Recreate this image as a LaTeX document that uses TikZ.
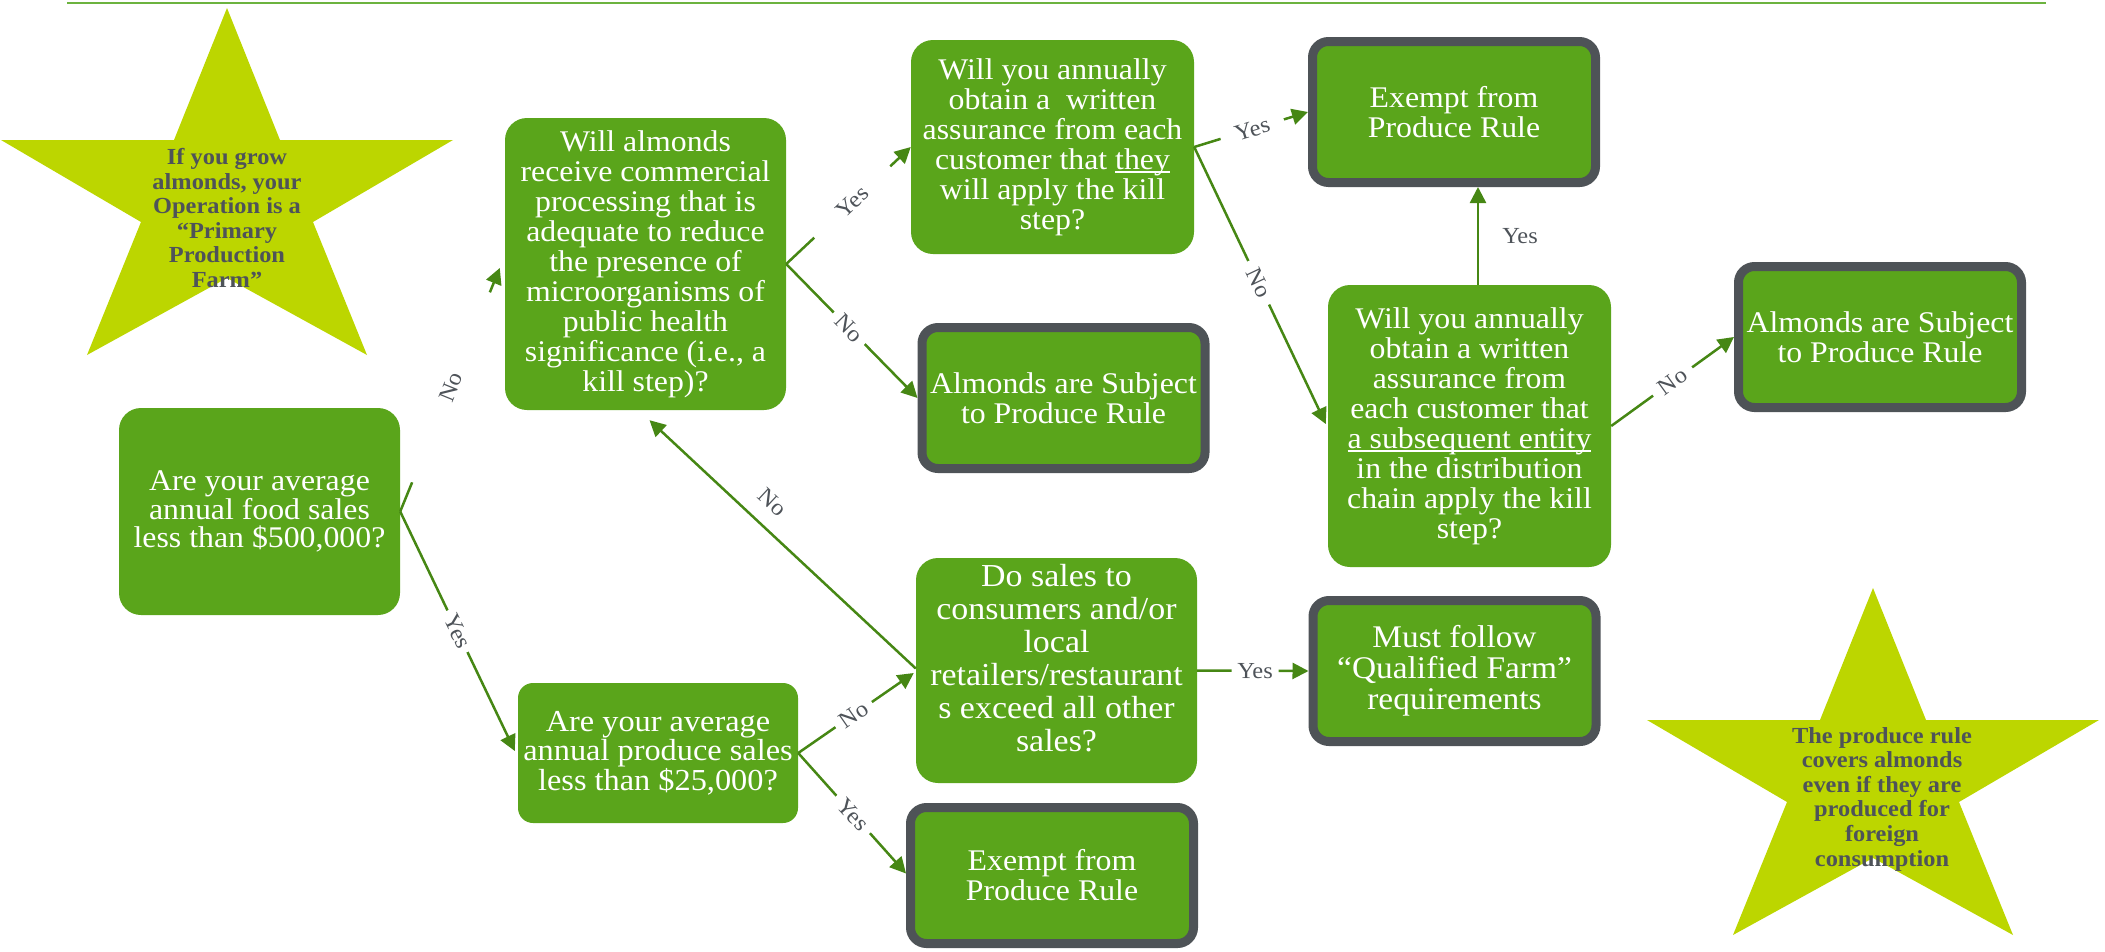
\documentclass[tikz,border=0pt]{standalone}
\usepackage{fontspec}
\setmainfont{Liberation Serif}[FakeStretch=1.06]
\usetikzlibrary{arrows.meta,calc}

\definecolor{boxgreen}{HTML}{5AA51B}
\definecolor{edgegray}{HTML}{4E5357}
\definecolor{stargreen}{HTML}{BCD600}
\definecolor{linkgreen}{HTML}{468714}
\definecolor{notegray}{HTML}{4E5359}
\definecolor{rulegreen}{HTML}{6CB33F}

% underline that sits just under the baseline without adding depth
\newcommand\ulword[1]{\setbox0\hbox{#1}\rlap{\rule[-3.5pt]{\wd0}{1.5pt}}\box0}

\begin{document}
\begin{tikzpicture}[x=1pt,y=-1pt,
  question/.style={fill=boxgreen, text=white, rounded corners=22pt, inner sep=2pt,
    align=center, font=\fontsize{30}{30}\selectfont},
  outcome/.style={draw=edgegray, line width=9pt, fill=boxgreen, text=white,
    rounded corners=16pt, inner sep=2pt, align=center,
    font=\fontsize{30}{30}\selectfont, minimum width=283pt, minimum height=141pt},
  link/.style={draw=linkgreen, line width=2.5pt, -{Triangle[length=16pt,width=16pt]}},
  tag/.style={text=notegray, font=\fontsize{23}{23}\selectfont, fill=white,
    inner xsep=2pt, inner ysep=1pt},
  stag/.style={tag, sloped},
  note/.style={text=notegray, font=\bfseries\fontsize{23}{24.6}\selectfont, align=center},
]
\useasboundingbox (0,0) rectangle (2105,951);

% header rule
\draw[rulegreen, line width=2pt] (67,2.5) -- (2046,2.5);

% the two star call-outs
\fill[stargreen] (227,8) -- ++(53,132) -- ++(173,0) -- ++(-140,82) -- ++(54,133)
  -- ++(-140,-77) -- ++(-140,77) -- ++(54,-133) -- ++(-140,-82) -- ++(173,0) -- cycle;
\fill[stargreen] (1873,588) -- ++(53,132) -- ++(173,0) -- ++(-140,82) -- ++(54,133)
  -- ++(-140,-77) -- ++(-140,77) -- ++(54,-133) -- ++(-140,-82) -- ++(173,0) -- cycle;
\node[note] (s1txt) at (227,218) {If you grow\\almonds, your\\Operation is a\\“Primary\\Production\\Farm”};
\node[note] (s2txt) at (1882,799) {The produce rule\\covers almonds\\even if they are\\produced for\\foreign\\consumption};

% decision boxes
\node[question, minimum width=281pt, minimum height=207pt, font=\fontsize{30}{28.5}\selectfont]
  (A) at (259.5,511.5) {Are your average\\annual food sales\\less than \$500,000?};
\node[question, minimum width=281pt, minimum height=292pt]
  (B) at (645.5,264) {Will almonds\\receive commercial\\processing that is\\adequate to reduce\\the presence of\\microorganisms of\\public health\\significance (i.e., a\\kill step)?};
\node[question, minimum width=283pt, minimum height=214pt]
  (C) at (1052.5,147) {Will you annually\\obtain a~ written\\assurance from each\\customer that \ulword{they}\\will apply the kill\\step?};
\node[question, minimum width=283pt, minimum height=282pt]
  (F) at (1469.5,426) {Will you annually\\obtain a written\\assurance from\\each customer that\\\ulword{a subsequent entity}\\in the distribution\\chain apply the kill\\step?};
\node[question, minimum width=281pt, minimum height=225pt] (H) at (1056.5,670.5) {};
\node[text=white, align=center, font=\fontsize{32}{33}\selectfont]
  (Htxt) at (1056.5,658) {Do sales to\\consumers and/or\\local\\retailers/restaurant\\s exceed all other\\sales?};
\node[question, rounded corners=15pt, minimum width=280pt, minimum height=140pt,
  font=\fontsize{30.5}{29.5}\selectfont]
  (K) at (658,753) {Are your average\\annual produce sales\\less than \$25,000?};

% outcome boxes
\node[outcome] (D) at (1063.5,398) {Almonds are Subject\\to Produce Rule};
\node[outcome] (E) at (1454,112) {Exempt from\\Produce Rule};
\node[outcome] (G) at (1880,337) {Almonds are Subject\\to Produce Rule};
\node[outcome, font=\fontsize{31.5}{31}\selectfont] (I) at (1454.5,671) {Must follow\\“Qualified Farm”\\requirements};
\node[outcome, minimum height=136pt] (J) at (1052,875.5) {Exempt from\\Produce Rule};

% connectors
\coordinate (fe) at ($(F.north)+(8.5,0)$);
\draw[link] (A.east) -- node[stag, pos=0.51, minimum width=205pt]{No} ($(B.west)+(-5,4)$);
\draw[link] (A.east) -- node[stag, pos=0.5, minimum width=46pt]{Yes} ($(K.west)+(-3,-2)$);
\draw[link] (B.east) -- node[stag, pos=0.53, minimum width=104pt]{Yes} (C.west);
\draw[link] (B.east) -- node[stag, pos=0.48, minimum width=44pt]{No} (D.west);
\draw[link] (C.east) -- node[stag, pos=0.51, minimum width=66pt]{Yes} (E.west);
\draw[link] (C.east) -- node[stag, pos=0.49, minimum width=48pt]{No} ($(F.west)+(-2,-2)$);
\draw[link] (fe) -- node[tag, fill=none, right=21pt]{Yes} (fe |- E.south);
\draw[link] (F.east) -- node[stag, pos=0.5, minimum width=48pt]{No} (G.west);
\draw[link] (K.east) -- node[stag, pos=0.48, minimum width=44pt]{No} ($(H.west)+(-2,2.5)$);
\draw[link] (K.east) -- node[stag, pos=0.51, minimum width=50pt]{Yes} ($(J.west)+(0,-2)$);
\draw[link] ($(H.west)+(0,-2)$) -- node[stag, fill=none, pos=0.6, above=14pt]{No} ($(B.south)+(4,10)$);
\draw[link] (H.east) -- node[stag, pos=0.52, minimum width=47pt]{Yes} (I.west);
\end{tikzpicture}
\end{document}
